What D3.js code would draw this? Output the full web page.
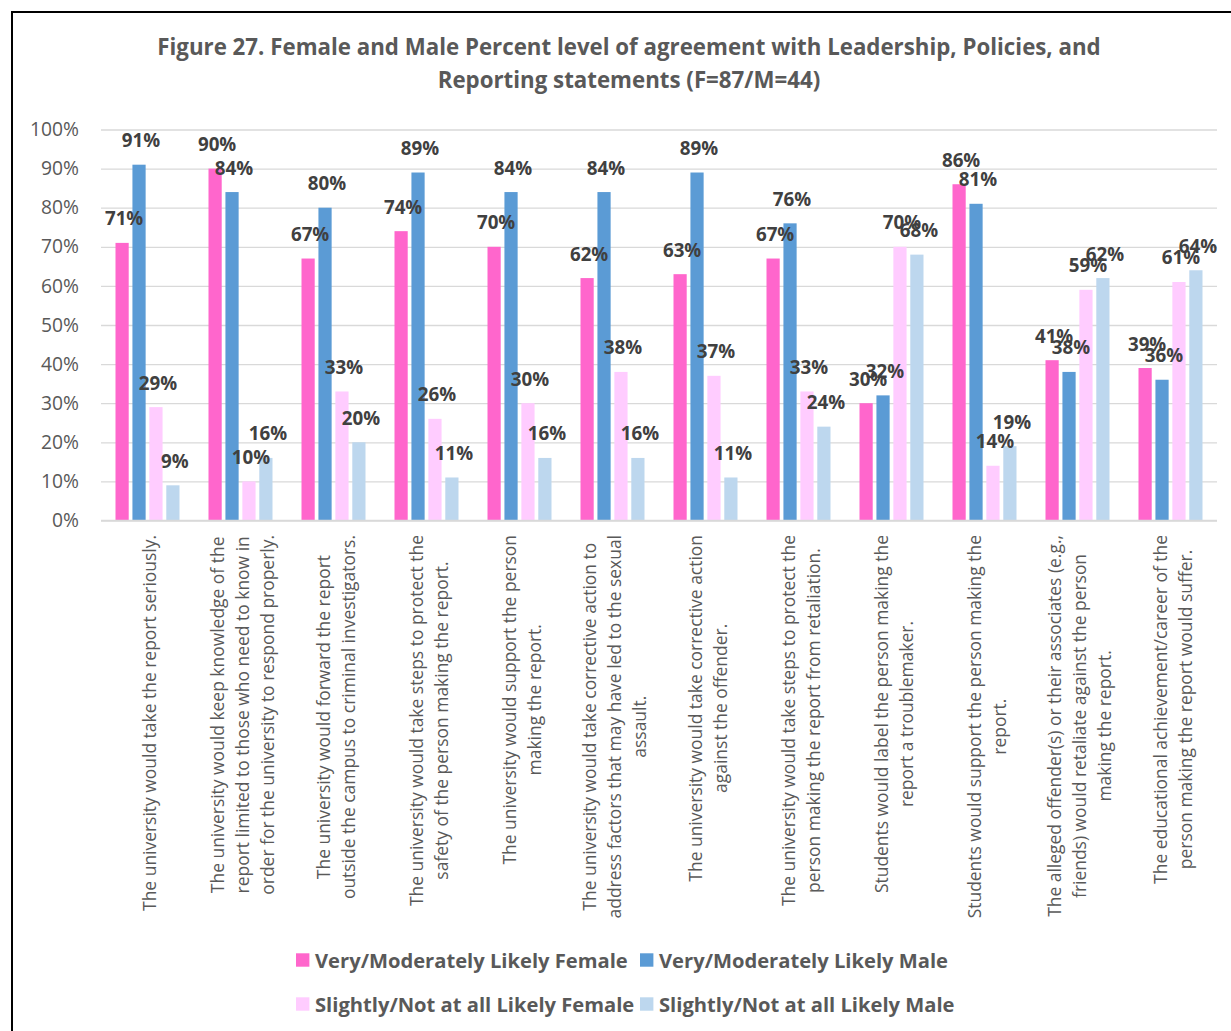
<!DOCTYPE html>
<html>
<head>
<meta charset="utf-8">
<script src="https://cdn.jsdelivr.net/npm/d3@7"></script>
<style>
  html, body { margin: 0; padding: 0; background: #fff; }
  svg { display: block; }
</style>
</head>
<body>
<div id="chart"></div>
<script>
// ---------- DATA ----------
const titleLines = [
  "Figure 27. Female and Male Percent level of agreement with Leadership, Policies, and",
  "Reporting statements (F=87/M=44)"
];
const categories = [
  "The university would take the report seriously.",
  "The university would keep knowledge of the\nreport limited to those who need to know in\norder for the university to respond properly.",
  "The university would forward the report\noutside the campus to criminal investigators.",
  "The university would take steps to protect the\nsafety of the person making the report.",
  "The university would support the person\nmaking the report.",
  "The university would take corrective action to\naddress factors that may have led to the sexual\nassault.",
  "The university would take corrective action\nagainst the offender.",
  "The university would take steps to protect the\nperson making the report from retaliation.",
  "Students would label the person making the\nreport a troublemaker.",
  "Students would support the person making the\nreport.",
  "The alleged offender(s) or their associates (e.g.,\nfriends) would retaliate against the person\nmaking the report.",
  "The educational achievement/career of the\nperson making the report would suffer."
];
const seriesNames = [
  "Very/Moderately Likely Female",
  "Very/Moderately Likely Male",
  "Slightly/Not at all Likely Female",
  "Slightly/Not at all Likely Male"
];
const veryFemale     = [71, 90, 67, 74, 70, 62, 63, 67, 30, 86, 41, 39];
const veryMale       = [91, 84, 80, 89, 84, 84, 89, 76, 32, 81, 38, 36];
const slightlyFemale = [29, 10, 33, 26, 30, 38, 37, 33, 70, 14, 59, 61];
const slightlyMale   = [ 9, 16, 20, 11, 16, 16, 11, 24, 68, 19, 62, 64];
const yTicks = [0, 10, 20, 30, 40, 50, 60, 70, 80, 90, 100];
const seriesColors = ["#FF66CC", "#5B9BD5", "#FFCCFF", "#BDD7EE"];

const seriesValues = [veryFemale, veryMale, slightlyFemale, slightlyMale];

// ---------- LAYOUT ----------
const W = 1231, H = 1031;
const FONT = "'Open Sans', 'Noto Sans', sans-serif";
const plot = { left: 101, right: 1217, top: 129.5, bottom: 520.5 };

const svg = d3.select("#chart").append("svg")
  .attr("width", W).attr("height", H);

function fitSize(text, weight, target) {
  const t = svg.append("text").attr("font-family", FONT)
    .attr("font-weight", weight).attr("font-size", 100).text(text);
  const w = t.node().getComputedTextLength();
  t.remove();
  return 100 * target / w;
}

const titleSize = fitSize(titleLines[0], "bold", 944);
const legendSize = fitSize(seriesNames[0], "bold", 313);
const catSize = fitSize("The university would keep knowledge of the", "normal", 357);
const labelSize = fitSize("91%", "bold", 38.4);
const tickSize = fitSize("100%", "normal", 49);

// frame
svg.append("rect")
  .attr("x", 12).attr("y", 12).attr("width", W + 20).attr("height", H + 20)
  .attr("fill", "#fff").attr("stroke", "#000").attr("stroke-width", 2);

// title
svg.append("g").selectAll("text").data(titleLines).join("text")
  .attr("x", 629)
  .attr("y", (d, i) => 55 + i * 33)
  .attr("text-anchor", "middle")
  .attr("font-family", FONT).attr("font-weight", "bold")
  .attr("font-size", titleSize)
  .attr("fill", "#595959")
  .text(d => d);

// scales
const y = d3.scaleLinear().domain([0, 100]).range([plot.bottom, plot.top]);
const x0 = d3.scaleBand().domain(d3.range(categories.length))
  .range([plot.left, plot.right]).padding(0);
const groupPad = 14.5;
const x1 = d3.scaleBand().domain(d3.range(seriesNames.length))
  .range([groupPad, x0.bandwidth() - groupPad]).paddingInner(0.22).paddingOuter(0);

// gridlines
svg.append("g")
  .attr("transform", `translate(${plot.left},0)`)
  .call(d3.axisLeft(y).tickValues(yTicks).tickSize(-(plot.right - plot.left)).tickFormat(""))
  .call(g => g.select(".domain").remove())
  .call(g => g.selectAll("line").attr("stroke", "#D9D9D9").attr("stroke-width", 1.3));

// y axis labels
svg.append("g")
  .attr("transform", `translate(79,0)`)
  .call(d3.axisLeft(y).tickValues(yTicks).tickSize(0).tickPadding(0).tickFormat(d => d + "%"))
  .call(g => g.select(".domain").remove())
  .call(g => g.selectAll("text")
    .attr("font-family", FONT).attr("font-size", tickSize)
    .attr("fill", "#595959"));

// bars
const barData = [];
categories.forEach((c, ci) => {
  seriesValues.forEach((vals, si) => {
    barData.push({ ci, si, v: vals[ci] });
  });
});

svg.append("g").selectAll("rect").data(barData).join("rect")
  .attr("x", d => x0(d.ci) + x1(d.si))
  .attr("y", d => y(d.v))
  .attr("width", x1.bandwidth())
  .attr("height", d => y(0) - y(d.v))
  .attr("fill", d => seriesColors[d.si]);

// axis baseline
svg.append("line")
  .attr("x1", plot.left).attr("x2", plot.right)
  .attr("y1", y(0)).attr("y2", y(0))
  .attr("stroke", "#D9D9D9").attr("stroke-width", 1.5);

// data labels
svg.append("g").selectAll("text").data(barData).join("text")
  .attr("x", d => x0(d.ci) + x1(d.si) + x1.bandwidth() / 2 + 2)
  .attr("y", d => y(d.v) - 24.5)
  .attr("text-anchor", "middle")
  .attr("dominant-baseline", "central")
  .attr("font-family", FONT).attr("font-weight", "bold")
  .attr("font-size", labelSize)
  .attr("fill", "#404040")
  .text(d => d.v + "%");

// category labels (rotated)
const catG = svg.append("g");
categories.forEach((c, ci) => {
  const lines = c.split("\n");
  const n = lines.length;
  // measure
  const tmp = catG.append("text").attr("font-family", FONT).attr("font-size", catSize);
  let maxLen = 0;
  lines.forEach(l => { tmp.text(l); maxLen = Math.max(maxLen, tmp.node().getComputedTextLength()); });
  tmp.remove();
  const cx = x0(ci) + x0.bandwidth() / 2 + 1.5;
  const cy = 535 + maxLen / 2;
  lines.forEach((l, li) => {
    const off = (li - (n - 1) / 2) * 25;
    catG.append("text")
      .attr("transform", `translate(${cx + off},${cy}) rotate(-90)`)
      .attr("text-anchor", "middle")
      .attr("dominant-baseline", "central")
      .attr("font-family", FONT).attr("font-size", catSize)
      .attr("fill", "#595959")
      .text(l);
  });
});

// legend
const legendPos = [
  { x: 296, y: 960 }, { x: 640, y: 960 },
  { x: 296, y: 1004 }, { x: 640, y: 1004 }
];
const leg = svg.append("g").selectAll("g").data(seriesNames).join("g")
  .attr("transform", (d, i) => `translate(${legendPos[i].x},${legendPos[i].y})`);
leg.append("rect")
  .attr("x", 0).attr("y", -6.7).attr("width", 13.4).attr("height", 13.4)
  .attr("fill", (d, i) => seriesColors[i]);
leg.append("text")
  .attr("x", 19).attr("y", 0)
  .attr("dominant-baseline", "central")
  .attr("font-family", FONT).attr("font-weight", "bold")
  .attr("font-size", legendSize)
  .attr("fill", "#595959")
  .text(d => d);
</script>
</body>
</html>
